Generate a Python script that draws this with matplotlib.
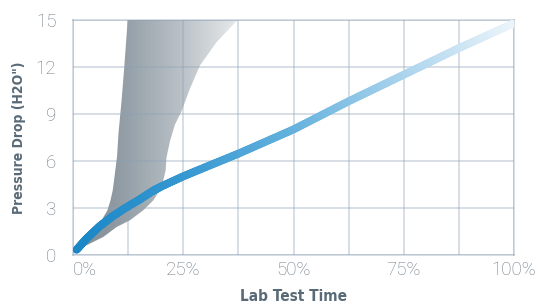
import numpy as np
import matplotlib
matplotlib.use("Agg")
import matplotlib.pyplot as plt
from matplotlib.collections import LineCollection
from matplotlib.colors import LinearSegmentedColormap
from matplotlib.patches import Polygon

# ---- data ----
line_x = [0.8, 3, 6, 9, 12, 15, 18, 20, 25, 31, 37.5, 50, 62.5, 75, 87.5, 100]
line_y = [0.3, 1.0, 1.8, 2.45, 3.0, 3.5, 4.05, 4.35, 5.0, 5.7, 6.45, 8.0, 9.8, 11.5, 13.2, 14.8]

band_upper_x = [0.8, 3, 5, 6.5, 7.8, 8.5, 9.0, 9.3, 9.6, 10.0, 10.3, 11.0, 11.6, 12.4]
band_upper_y = [0.3, 1.15, 1.75, 2.2, 2.82, 3.46, 4.09, 4.72, 5.4, 6.3, 7.7, 9.8, 11.9, 15.0]
band_lower_x = [0.8, 3.5, 6.9, 9.9, 12.9, 15.9, 18.2, 20.1, 21.0, 21.2, 22.0, 23.1, 24.6, 26.5, 28.8, 32.6, 37.3]
band_lower_y = [0.3, 0.65, 1.13, 1.76, 2.19, 2.82, 3.46, 4.3, 5.36, 6.2, 7.26, 8.3, 9.16, 10.6, 12.1, 13.6, 15.0]

x_ticks = [0, 25, 50, 75, 100]
x_tick_labels = ["0%", "25%", "50%", "75%", "100%"]
y_ticks = [0, 3, 6, 9, 12, 15]
y_tick_labels = ["0", "3", "6", "9", "12", "15"]
x_grid = [12.5, 37.5, 62.5, 87.5]

fig = plt.figure(figsize=(5.49, 3.06), dpi=100)
ax = fig.add_axes([73/549, 1-254.5/306, (514-73)/549, (254.5-20)/306])

# gray band with horizontal gradient
poly_pts = list(zip(band_upper_x, band_upper_y)) + list(zip(band_lower_x[::-1], band_lower_y[::-1]))
poly = Polygon(poly_pts, closed=True, facecolor="none", edgecolor="none")
ax.add_patch(poly)
gray_cmap = LinearSegmentedColormap.from_list(
    "g", [(0.0, "#84909a"), (0.2, "#8a969e"), (0.33, "#96a1a9"), (0.66, "#bcc3c8"), (1.0, "#eaecee")])
grad = np.linspace(0, 1, 256).reshape(1, -1)
im = ax.imshow(grad, extent=[0, 38, 0, 15], aspect="auto", cmap=gray_cmap,
               origin="lower", zorder=1, interpolation="bilinear")
ax.set_xlim(0, 100)
ax.set_ylim(0, 15)
im.set_clip_path(poly)

# grid drawn on top of the band as a translucent overlay
grid_col = "#8ea2b5"
for v in x_ticks + x_grid:
    ax.axvline(v, color=grid_col, alpha=0.38, lw=1.3, zorder=2)
for v in y_ticks:
    ax.axhline(v, color=grid_col, alpha=0.38, lw=1.3, zorder=2)

# blue gradient line
xs = np.array(line_x, dtype=float)
ys = np.array(line_y, dtype=float)
seg_x, seg_y = [], []
for i in range(len(xs) - 1):
    t = np.linspace(0, 1, 20, endpoint=False)
    seg_x.extend(xs[i] + (xs[i+1]-xs[i])*t)
    seg_y.extend(ys[i] + (ys[i+1]-ys[i])*t)
seg_x.append(xs[-1]); seg_y.append(ys[-1])
pts = np.array([seg_x, seg_y]).T.reshape(-1, 1, 2)
segs = np.concatenate([pts[:-1], pts[1:]], axis=1)
blue_cmap = LinearSegmentedColormap.from_list(
    "b", [(0.0, "#1a86c6"), (0.25, "#3597d0"), (0.5, "#63b1dd"), (0.75, "#a9d3ec"), (1.0, "#eaf4fa")])
cvals = (np.array(seg_x[:-1]) + np.array(seg_x[1:])) / 200.0
lc = LineCollection(segs, cmap=blue_cmap, linewidths=5.6, capstyle="round", joinstyle="round", zorder=3)
lc.set_array(cvals)
lc.set_clim(0, 1)
ax.add_collection(lc)

for s in ax.spines.values():
    s.set_color(grid_col)
    s.set_alpha(0.38)
    s.set_linewidth(1.3)

tick_col = "#6f7c86"
ax.set_xticks(x_ticks)
ax.set_xticklabels(x_tick_labels)
ax.set_yticks(y_ticks)
ax.set_yticklabels(y_tick_labels)
ax.tick_params(length=0, colors=tick_col, labelsize=13.5)
ax.tick_params(axis="x", pad=5)
ax.tick_params(axis="y", pad=12)
for lab in ax.get_xticklabels() + ax.get_yticklabels():
    lab.set_family(["Roboto", "Inter", "DejaVu Sans"])
    lab.set_fontweight("light")
ax.get_xticklabels()[0].set_horizontalalignment("left")

lab_col = "#586a78"
ax.set_xlabel("Lab Test Time", family="DejaVu Sans", fontstretch="condensed",
              fontweight="bold", fontsize=11, color=lab_col, labelpad=7)
ax.set_ylabel('Pressure Drop (H2O")', family="DejaVu Sans", fontstretch="condensed",
              fontweight="bold", fontsize=10, color=lab_col, labelpad=7)

fig.savefig("out.png", dpi=100)
